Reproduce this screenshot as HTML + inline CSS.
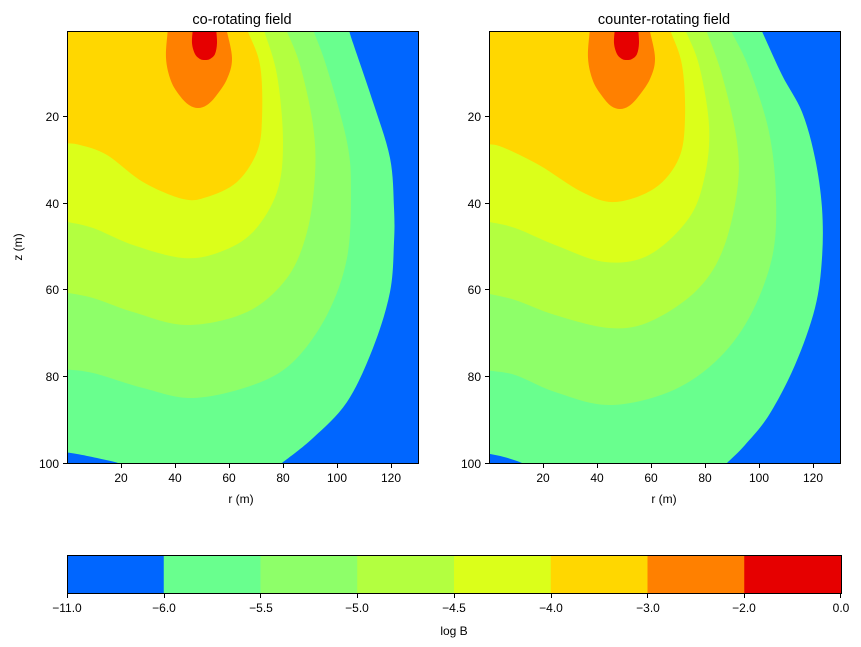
<!DOCTYPE html>
<html><head><meta charset="utf-8"><style>
body{margin:0;background:#fff}
svg{display:block;font-family:"Liberation Sans","DejaVu Sans",sans-serif}
</style></head><body>
<svg id="s" width="861" height="647" viewBox="0 0 861 647" xmlns="http://www.w3.org/2000/svg">
<defs>
<clipPath id="c"><rect x="0" y="0" width="351" height="432"/></clipPath>
</defs>
<g id="L" transform="translate(67,31)" clip-path="url(#c)">
<rect x="0" y="0" width="351" height="432" fill="#0066ff"/>
</g>
<g id="R" transform="translate(489,31)" clip-path="url(#c)">
<rect x="0" y="0" width="351" height="432" fill="#0066ff"/>
</g>
<g fill="none" stroke="#000" stroke-width="1">
<rect x="67.5" y="31.5" width="351" height="432"/>
<rect x="489.5" y="31.5" width="351" height="432"/>
<path d="M121.5,464v4M175.5,464v4M229.5,464v4M283.5,464v4M337.5,464v4M391.5,464v4
M543.5,464v4M597.5,464v4M651.5,464v4M705.5,464v4M759.5,464v4M813.5,464v4
M67,116.5h-4M67,203.5h-4M67,289.5h-4M67,376.5h-4M67,463.5h-4
M489,116.5h-4M489,203.5h-4M489,289.5h-4M489,376.5h-4M489,463.5h-4"/>
</g>
<g font-size="12" fill="#000" text-anchor="middle">
<text x="121" y="482">20</text><text x="175" y="482">40</text><text x="229" y="482">60</text><text x="283" y="482">80</text><text x="337" y="482">100</text><text x="391" y="482">120</text>
<text x="543" y="482">20</text><text x="597" y="482">40</text><text x="651" y="482">60</text><text x="705" y="482">80</text><text x="759" y="482">100</text><text x="813" y="482">120</text>
<text x="241" y="503">r (m)</text><text x="664" y="503">r (m)</text>
<text transform="translate(22,247) rotate(-90)">z (m)</text>
</g>
<g font-size="12" fill="#000" text-anchor="end">
<text x="59" y="121">20</text><text x="59" y="208">40</text><text x="59" y="294">60</text><text x="59" y="381">80</text><text x="59" y="468">100</text>
<text x="481" y="121">20</text><text x="481" y="208">40</text><text x="481" y="294">60</text><text x="481" y="381">80</text><text x="481" y="468">100</text>
</g>
<g font-size="14.5" fill="#000" text-anchor="middle">
<text x="242" y="24">co-rotating field</text>
<text x="664" y="24">counter-rotating field</text>
</g>
<g>
<rect x="67" y="555" width="97" height="38" fill="#0066ff"/>
<rect x="163.75" y="555" width="97" height="38" fill="#69ff8e"/>
<rect x="260.5" y="555" width="97" height="38" fill="#8eff69"/>
<rect x="357.25" y="555" width="97" height="38" fill="#b3ff40"/>
<rect x="454" y="555" width="97" height="38" fill="#dbff1a"/>
<rect x="550.75" y="555" width="97" height="38" fill="#ffd700"/>
<rect x="647.5" y="555" width="97" height="38" fill="#ff8000"/>
<rect x="744.25" y="555" width="96.75" height="38" fill="#e60000"/>
<rect x="67.5" y="555.5" width="774" height="38" fill="none" stroke="#000"/>
<path d="M67.5,594v4M164.5,594v4M260.5,594v4M357.5,594v4M454.5,594v4M551.5,594v4M647.5,594v4M744.5,594v4M840.5,594v4" stroke="#000"/>
</g>
<g font-size="12" fill="#000" text-anchor="middle">
<text x="67" y="612">−11.0</text><text x="164" y="612">−6.0</text><text x="261" y="612">−5.5</text><text x="357" y="612">−5.0</text><text x="454" y="612">−4.5</text><text x="551" y="612">−4.0</text><text x="648" y="612">−3.0</text><text x="744" y="612">−2.0</text><text x="841" y="612">0.0</text>
<text x="454" y="635">log B</text>
</g>
</svg>
<script>
function cr(p){
  var n=p.length,d='';
  for(var i=0;i<n-1;i++){
    var p1=p[i],p2=p[i+1];
    var p0=i>0?p[i-1]:[2*p1[0]-p2[0],2*p1[1]-p2[1]];
    var p3=i+2<n?p[i+2]:[2*p2[0]-p1[0],2*p2[1]-p1[1]];
    d+='C'+(p1[0]+(p2[0]-p0[0])/6)+','+(p1[1]+(p2[1]-p0[1])/6)+' '+(p2[0]-(p3[0]-p1[0])/6)+','+(p2[1]-(p3[1]-p1[1])/6)+' '+p2[0]+','+p2[1];
  }
  return d;
}
function add(g,col,pts,close){
  var d='M'+pts[0][0]+','+pts[0][1]+cr(pts)+close;
  var e=document.createElementNS('http://www.w3.org/2000/svg','path');
  e.setAttribute('d',d);e.setAttribute('fill',col);
  document.getElementById(g).appendChild(e);
}
function P(s){return s.trim().split(/\s+/).map(function(t){return t.split(',').map(Number);});}
var cols=['#69ff8e','#8eff69','#b3ff40','#dbff1a','#ffd700'];
var Ld=[
"281,-4 286,12 306,71 323,127 327,177 327,211 323,261 306,317 280,371 246,407 215,432 205,440",
"245,-4 260,37 280,111 284,161 280,227 260,284 226,331 186,354 126,367 76,357 26,342 -4,338",
"218,-4 233,34 246,94 248,144 240,201 220,247 180,281 120,294 66,281 26,267 -4,261",
"196,-4 210,44 216,111 210,161 186,201 153,221 116,227 66,214 26,197 -4,190",
"179,-4 193,34 195,87 190,121 170,151 140,166 116,168 76,151 40,124 13,114 -4,112"];
var Rd=[
"271,-4 293,44 313,81 326,127 333,177 333,227 326,277 306,334 280,384 256,414 238,432 230,440",
"240,-4 260,37 280,101 287,167 283,227 260,287 226,331 180,361 120,374 66,361 26,344 -4,339",
"216,-4 233,44 248,111 248,161 233,221 206,261 160,291 120,297 66,284 26,269 -4,262",
"195,-4 210,34 220,94 216,144 200,187 160,224 116,231 66,214 26,197 -4,190",
"180,-4 193,34 196,87 190,127 166,157 126,171 93,161 50,134 13,116 -4,113"];
for(var i=0;i<5;i++){
  var cl=(i==0)?'L-10,440L-10,-10Z':'L-10,-10Z';
  add('L',cols[i],P(Ld[i]),cl);
  add('R',cols[i],P(Rd[i]),cl);
  if(i==0){
    add('L','#0066ff',P("-4,421 10,423 30,427 51,432 56,436"),'L-10,440Z');
    add('R','#0066ff',P("-4,422 15,426 33,432 37,436"),'L-10,440Z');
  }
}
var org="101,-4 99,27 104,50 113,65 122,74 131,77 140,74 149,65 160,48 165,27 159,-4";
var orgR="101,-4 99,27 104,50 113,65 122,75 131,78 140,75 149,66 161,48 166,27 160,-4";
var red="126,-4 125,12 128,23 133,28 138,29 143,28 148,23 150,12 149,-4";
add('L','#ff8000',P(org),'Z');add('R','#ff8000',P(orgR),'Z');
add('L','#e60000',P(red),'Z');add('R','#e60000',P(red),'Z');
</script>
</body></html>
